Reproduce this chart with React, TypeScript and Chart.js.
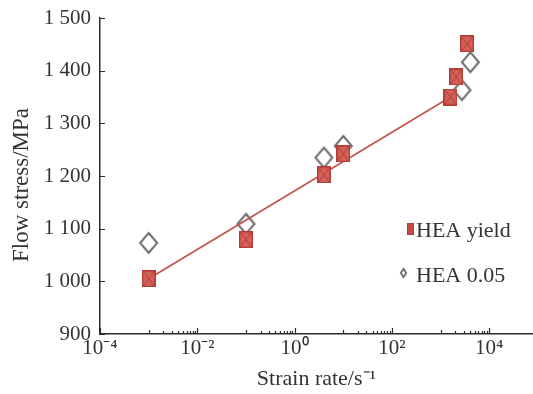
import { useEffect, useRef } from 'react';
import { Chart, registerables } from 'chart.js';

Chart.register(...registerables);

// Strain rate (s^-1) and flow stress (MPa)
const yieldRate = [0.001, 0.1, 4, 10, 1600, 2100, 3500];
const yieldStress = [1005, 1079, 1202, 1242, 1350, 1388, 1451];
const strain005Rate = [0.001, 0.1, 4, 10, 2750, 4100];
const strain005Stress = [1073, 1109, 1235, 1257, 1363, 1416];
const fitRate = [0.001, 1600];
const fitStress = [1005, 1350];

const xTickExponents = [-4, -2, 0, 2, 4];
const xMinorExponents = [-3, -1, 1, 3];
const yTickValues = [900, 1000, 1100, 1200, 1300, 1400, 1500];
const yTickLabels = ['900', '1 000', '1 100', '1 200', '1 300', '1 400', '1 500'];
const xTickLabels = ['10⁻⁴', '10⁻²', '10⁰', '10²', '10⁴'];
const legendLabels = ['HEA yield', 'HEA 0.05'];
const yTitle = 'Flow stress/MPa';
const xTitle = 'Strain rate/s⁻¹';

const FONT = '"Liberation Serif", "Times New Roman", serif';
const TEXT = '#333333';

function makeSquare(w: number, h: number) {
  const c = document.createElement('canvas');
  c.width = w;
  c.height = h;
  const g = c.getContext('2d')!;
  g.fillStyle = '#d4625a';
  g.fillRect(0, 0, w, h);
  g.strokeStyle = '#b23d34';
  g.lineWidth = 1.5;
  g.strokeRect(0.75, 0.75, w - 1.5, h - 1.5);
  g.beginPath();
  g.moveTo(2, 2);
  g.lineTo(w - 2, h - 2);
  g.moveTo(w - 2, 2);
  g.lineTo(2, h - 2);
  g.strokeStyle = '#b8443b';
  g.lineWidth = 1.2;
  g.stroke();
  return c;
}

function makeDiamond(w: number, h: number, lw: number) {
  const c = document.createElement('canvas');
  c.width = w;
  c.height = h;
  const g = c.getContext('2d')!;
  g.beginPath();
  g.moveTo(w / 2, lw);
  g.lineTo(w - lw, h / 2);
  g.lineTo(w / 2, h - lw);
  g.lineTo(lw, h / 2);
  g.closePath();
  g.fillStyle = '#ffffff';
  g.fill();
  g.strokeStyle = '#6c6c6c';
  g.lineWidth = lw;
  g.stroke();
  return c;
}

export default function App() {
  const ref = useRef<HTMLCanvasElement>(null);

  useEffect(() => {
    const canvas = ref.current!;
    const square = makeSquare(14, 17);
    const diamond = makeDiamond(21, 24, 2);
    const smallSquare = makeSquare(7, 12);
    const smallDiamond = makeDiamond(9, 12, 1.8);

    const tickPlugin = {
      id: 'innerTicks',
      afterDraw(chart: any) {
        const { ctx, chartArea, scales } = chart;
        const x = scales.x;
        const y = scales.y;
        ctx.save();
        ctx.strokeStyle = '#2a2a2a';
        ctx.lineWidth = 1.2;
        ctx.beginPath();
        for (const v of yTickValues) {
          const py = Math.round(y.getPixelForValue(v)) + 0.5;
          ctx.moveTo(chartArea.left, py);
          ctx.lineTo(chartArea.left + 5, py);
        }
        for (const e of xTickExponents) {
          const px = Math.round(x.getPixelForValue(Math.pow(10, e))) + 0.5;
          ctx.moveTo(px, chartArea.bottom);
          ctx.lineTo(px, chartArea.bottom - 6);
        }
        for (const e of xMinorExponents) {
          for (let k = 1; k <= 9; k++) {
            const px = Math.round(x.getPixelForValue(k * Math.pow(10, e))) + 0.5;
            ctx.moveTo(px, chartArea.bottom);
            ctx.lineTo(px, chartArea.bottom - (k === 1 ? 4 : 3));
          }
        }
        ctx.stroke();

        // y-axis title
        ctx.fillStyle = TEXT;
        ctx.font = `23px ${FONT}`;
        ctx.textAlign = 'center';
        ctx.textBaseline = 'middle';
        ctx.translate(22, 185);
        ctx.rotate(-Math.PI / 2);
        ctx.fillText(yTitle, 0, 0);
        ctx.restore();
      },
    };

    const legendPlugin = {
      id: 'insideLegend',
      afterDraw(chart: any) {
        const { ctx } = chart;
        ctx.save();
        ctx.drawImage(smallSquare, 407, 223);
        ctx.drawImage(smallDiamond, 399, 267);
        ctx.fillStyle = TEXT;
        ctx.font = `22px ${FONT}`;
        ctx.textBaseline = 'alphabetic';
        ctx.textAlign = 'left';
        ctx.fillText(legendLabels[0], 416, 237);
        ctx.fillText(legendLabels[1], 416, 282);
        ctx.restore();
      },
    };

    const chart = new Chart(canvas, {
      type: 'scatter',
      data: {
        datasets: [
          {
            label: legendLabels[0],
            data: yieldRate.map((r, i) => ({ x: r, y: yieldStress[i] })),
            pointStyle: square as any,
            pointRadius: 8,
            order: 0,
          },
          {
            label: 'fit',
            data: fitRate.map((r, i) => ({ x: r, y: fitStress[i] })),
            showLine: true,
            borderColor: '#c4504a',
            borderWidth: 1.6,
            pointRadius: 0,
            order: 1,
          } as any,
          {
            label: legendLabels[1],
            data: strain005Rate.map((r, i) => ({ x: r, y: strain005Stress[i] })),
            pointStyle: diamond as any,
            pointRadius: 10,
            order: 2,
          },
        ],
      },
      options: {
        animation: false,
        responsive: false,
        events: [],
        layout: { padding: { top: 18, right: 0, left: 0, bottom: 0 } },
        plugins: {
          legend: { display: false },
          tooltip: { enabled: false },
        },
        scales: {
          x: {
            type: 'logarithmic',
            min: 0.0001,
            max: Math.pow(10, 4.9),
            grid: { display: false, drawTicks: false, tickLength: 0 },
            border: { display: true, color: '#2a2a2a', width: 1.5 },
            afterBuildTicks: (scale: any) => {
              scale.ticks = xTickExponents.map((e) => ({ value: Math.pow(10, e) }));
            },
            afterFit: (scale: any) => {
              scale.height = 60;
              scale.paddingLeft = 0;
              scale.paddingRight = 0;
            },
            ticks: {
              autoSkip: false,
              maxRotation: 0,
              padding: 3,
              color: TEXT,
              font: { family: FONT, size: 21, lineHeight: 1.1 },
              callback: (v: any) => {
                const e = Math.round(Math.log10(Number(v)));
                const i = xTickExponents.indexOf(e);
                return i >= 0 ? xTickLabels[i] : '';
              },
            },
            title: {
              display: true,
              text: xTitle,
              color: TEXT,
              font: { family: FONT, size: 22 },
              padding: { top: 0, bottom: 2 },
            },
          },
          y: {
            type: 'linear',
            min: 900,
            max: 1500,
            grid: { display: false, drawTicks: false, tickLength: 0 },
            border: { display: true, color: '#2a2a2a', width: 1.5 },
            afterBuildTicks: (scale: any) => {
              scale.ticks = yTickValues.map((v) => ({ value: v }));
            },
            afterFit: (scale: any) => {
              scale.width = 100;
              scale.paddingTop = 0;
              scale.paddingBottom = 0;
            },
            ticks: {
              padding: 9,
              color: TEXT,
              font: { family: FONT, size: 21 },
              callback: (v: any) => {
                const i = yTickValues.indexOf(Number(v));
                return i >= 0 ? yTickLabels[i] : '';
              },
            },
          },
        },
      } as any,
      plugins: [tickPlugin, legendPlugin],
    });

    return () => chart.destroy();
  }, []);

  return (
    <div style={{ position: 'absolute', left: 0, top: 0, width: 533, height: 394, overflow: 'hidden', background: '#fff' }}>
      <canvas ref={ref} width={544} height={394} style={{ display: 'block' }} />
    </div>
  );
}
